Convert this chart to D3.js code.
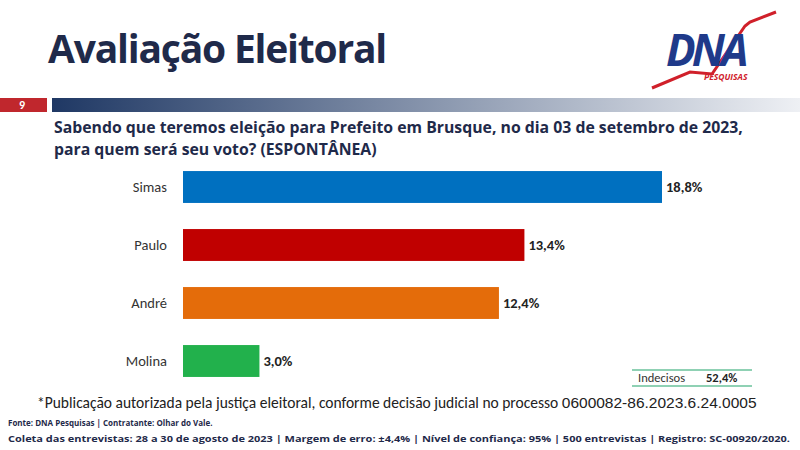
<!DOCTYPE html>
<html><head><meta charset="utf-8">
<script src="https://cdn.jsdelivr.net/npm/d3@7"></script>
<style>body{margin:0;background:#fff}svg{display:block}</style>
</head><body><svg id="c" width="800" height="450"></svg>
<script>
const categories = ["Simas","Paulo","André","Molina"];
const values = [18.8,13.4,12.4,3.0];
const colors = ["#0070c0","#c00000","#e46c0a","#22b14c"];
const labels = ["18,8%","13,4%","12,4%","3,0%"];

const svg = d3.select("#c");
const font = "Calibri, Carlito, 'Open Sans', sans-serif";
const defs = svg.append("defs");
const g1 = defs.append("linearGradient").attr("id","hb");
g1.append("stop").attr("offset","0%").attr("stop-color","#1f3864");
g1.append("stop").attr("offset","100%").attr("stop-color","#eef0f4");

svg.append("text").attr("x",48).attr("y",63).attr("font-family","'Open Sans',sans-serif").attr("font-weight","bold")
  .attr("font-size",39).attr("fill","#1f2a4a").attr("letter-spacing",-1.2).text("Avaliação Eleitoral");

// logo
svg.append("polyline").attr("points","652,88 690,72 712,74 727,52 745,26 750,22 776,12")
  .attr("fill","none").attr("stroke","#d0202a").attr("stroke-width",3);
svg.append("text").attr("x",666).attr("y",66).attr("font-family","'Open Sans',sans-serif").attr("font-weight","bold")
  .attr("font-style","italic").attr("font-size",44).attr("fill","#1f3a8a").attr("letter-spacing",-4).text("DNA");
svg.append("text").attr("x",704).attr("y",80).attr("font-family","'Open Sans',sans-serif").attr("font-weight","bold")
  .attr("font-style","italic").attr("font-size",8.5).attr("fill","#d0202a").text("PESQUISAS");

svg.append("rect").attr("x",0).attr("y",98).attr("width",47).attr("height",14).attr("fill","#c0272d");
svg.append("text").attr("x",22).attr("y",109).attr("text-anchor","middle").attr("fill","#fff").attr("font-family",font)
  .attr("font-weight","bold").attr("font-size",12).text("9");
svg.append("rect").attr("x",52).attr("y",98).attr("width",748).attr("height",14).attr("fill","url(#hb)");

svg.append("text").attr("x",54).attr("y",133).attr("font-family","'Open Sans',sans-serif").attr("font-weight","bold")
  .attr("font-size",15.8).attr("fill","#1f2a4a").text("Sabendo que teremos eleição para Prefeito em Brusque, no dia 03 de setembro de 2023,");
svg.append("text").attr("x",54).attr("y",155).attr("font-family","'Open Sans',sans-serif").attr("font-weight","bold")
  .attr("font-size",15.8).attr("fill","#1f2a4a").text("para quem será seu voto? (ESPONTÂNEA)");

const x = d3.scaleLinear().domain([0,18.8]).range([183,662]);
const y = d3.scaleBand().domain(categories).range([158,390]).paddingInner(0.45).paddingOuter(0.225);
const bars = svg.append("g");
categories.forEach((c,i)=>{
  bars.append("rect").attr("x",x(0)).attr("y",y(c)).attr("width",x(values[i])-x(0)).attr("height",y.bandwidth()).attr("fill",colors[i]);
  bars.append("text").attr("x",x(values[i])+4).attr("y",y(c)+y.bandwidth()/2+5).attr("font-family",font)
    .attr("font-weight","bold").attr("font-size",14.5).attr("fill","#222").text(labels[i]);
  bars.append("text").attr("x",167).attr("y",y(c)+y.bandwidth()/2+5).attr("text-anchor","end").attr("font-family",font)
    .attr("font-size",14.5).attr("fill","#333").text(c);
});

svg.append("line").attr("x1",632).attr("x2",752).attr("y1",370).attr("y2",370).attr("stroke","#8fd1b4").attr("stroke-width",2);
svg.append("line").attr("x1",632).attr("x2",752).attr("y1",386).attr("y2",386).attr("stroke","#8fd1b4").attr("stroke-width",2);
svg.append("text").attr("x",638).attr("y",382).attr("font-family",font).attr("font-size",12.5).attr("fill","#333").text("Indecisos");
svg.append("text").attr("x",706).attr("y",382).attr("font-family",font).attr("font-weight","bold").attr("font-size",12.5).attr("fill","#222").text("52,4%");

svg.append("text").attr("x",37).attr("y",408).attr("font-family",font).attr("font-size",15.5).attr("fill","#222")
  .text("*Publicação autorizada pela justiça eleitoral, conforme decisão judicial no processo ")
  .append("tspan").attr("font-family","'Liberation Sans',sans-serif").attr("font-size",15.5).text("0600082-86.2023.6.24.0005");
svg.append("text").attr("x",8).attr("y",426).attr("font-family","'Open Sans',sans-serif").attr("font-weight","bold").attr("font-size",8).attr("fill","#1f2a4a")
  .text("Fonte: DNA Pesquisas | Contratante: Olhar do Vale.");
svg.append("text").attr("x",8).attr("y",442).attr("font-family","'Open Sans',sans-serif").attr("font-weight","bold").attr("font-size",8).attr("fill","#1f2a4a")
  .attr("textLength",782).attr("lengthAdjust","spacingAndGlyphs")
  .text("Coleta das entrevistas: 28 a 30 de agosto de 2023 | Margem de erro: ±4,4% | Nível de confiança: 95% | 500 entrevistas | Registro: SC-00920/2020.");
</script></body></html>
